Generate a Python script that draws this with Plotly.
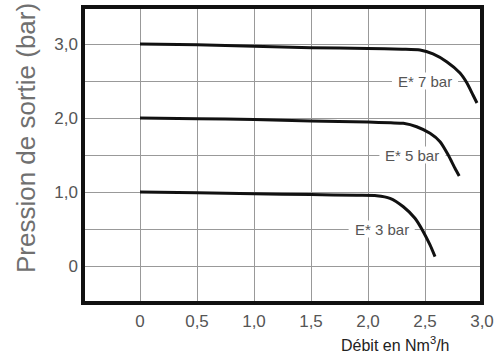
import plotly.graph_objects as go

# Data
e7_x = [0, 0.5, 1.0, 1.5, 2.0, 2.3, 2.456, 2.57, 2.693, 2.807, 2.868, 2.921, 2.956]
e7_y = [3.0, 2.99, 2.97, 2.95, 2.94, 2.93, 2.919, 2.865, 2.757, 2.608, 2.473, 2.311, 2.203]
e5_x = [0, 0.5, 1.0, 1.5, 2.0, 2.2, 2.31, 2.427, 2.544, 2.632, 2.704, 2.763, 2.80]
e5_y = [2.0, 1.99, 1.98, 1.96, 1.945, 1.935, 1.928, 1.882, 1.793, 1.680, 1.50, 1.320, 1.216]
e3_x = [0, 0.5, 1.0, 1.5, 1.9, 2.076, 2.193, 2.310, 2.412, 2.485, 2.544, 2.588]
e3_y = [1.0, 0.99, 0.975, 0.965, 0.955, 0.950, 0.915, 0.801, 0.645, 0.464, 0.284, 0.126]

labels = ["E* 7 bar", "E* 5 bar", "E* 3 bar"]
label_x = [2.5, 2.39, 2.12]
label_y = [2.5, 1.5, 0.5]

x_tickvals = [0, 0.5, 1.0, 1.5, 2.0, 2.5, 3.0]
x_ticktext = ["0", "0,5", "1,0", "1,5", "2,0", "2,5", "3,0"]
y_tickvals = [-0.5, 0, 0.5, 1.0, 1.5, 2.0, 2.5, 3.0, 3.5]
y_ticktext = ["", "0", "", "1,0", "", "2,0", "", "3,0", ""]

FONT = "Liberation Sans, Arial"

fig = go.Figure()
for xs, ys in [(e7_x, e7_y), (e5_x, e5_y), (e3_x, e3_y)]:
    fig.add_trace(go.Scatter(x=xs, y=ys, mode="lines",
                             line=dict(color="#111111", width=3, shape="spline", smoothing=0.6),
                             showlegend=False, hoverinfo="skip"))

# labels: white mask behind the text hides the grid (drawn between grid and curves)
half_w, half_h = 0.29, 0.115
for t, lx, ly in zip(labels, label_x, label_y):
    fig.add_shape(type="rect", x0=lx - half_w, x1=lx + half_w, y0=ly - half_h, y1=ly + half_h,
                  fillcolor="white", line=dict(width=0), layer="between")
    fig.add_annotation(x=lx, y=ly, text=t, showarrow=False,
                       font=dict(family=FONT, size=15, color="#555555"))

# axis titles as annotations
fig.add_annotation(xref="paper", yref="paper", x=-0.143, y=0.557, text="Pression de sortie (bar)",
                   textangle=-90, showarrow=False, xanchor="center", yanchor="middle",
                   font=dict(family=FONT, size=26, color="#707070"))
fig.add_annotation(xref="paper", yref="paper", x=0.782, y=-0.139, text="Débit en Nm<sup>3</sup>/h",
                   showarrow=False, xanchor="center", yanchor="middle",
                   font=dict(family=FONT, size=16, color="#222222"))

# frame
fig.add_shape(type="rect", xref="paper", yref="paper", x0=0, x1=1, y0=0, y1=1,
              line=dict(color="#111111", width=4), layer="above")

fig.update_xaxes(range=[-0.5, 3.0], tickvals=x_tickvals, ticktext=x_ticktext,
                 showgrid=True, gridcolor="#999999", gridwidth=1, zeroline=False,
                 showline=False, ticks="", ticklabelstandoff=6,
                 tickfont=dict(family=FONT, size=17, color="#555555"))
fig.update_yaxes(range=[-0.5, 3.5], tickvals=y_tickvals, ticktext=y_ticktext,
                 showgrid=True, gridcolor="#999999", gridwidth=1, zeroline=False,
                 showline=False, ticks="", ticklabelstandoff=4,
                 tickfont=dict(family=FONT, size=17, color="#555555"))

fig.update_layout(width=503, height=358, margin=dict(l=83, r=21, t=7, b=55, autoexpand=False),
                  plot_bgcolor="white", paper_bgcolor="white")

fig.write_html("out.html", config={"displayModeBar": False},
               post_script="document.body.style.margin='0';")
